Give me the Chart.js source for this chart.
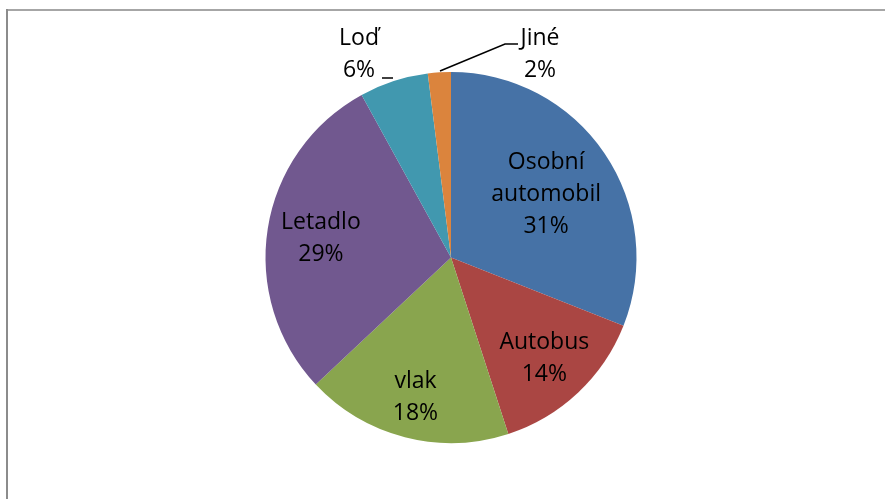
<!DOCTYPE html>
<html>
<head>
<meta charset="utf-8">
<script src="https://cdn.jsdelivr.net/npm/chart.js@4/dist/chart.umd.min.js"></script>
<style>
  html, body { margin: 0; padding: 0; background: #ffffff; }
  #c { display: block; }
</style>
</head>
<body>
<canvas id="c" width="885" height="499"></canvas>
<script>
// ---- data ----
const categories = ["Osobní automobil", "Autobus", "vlak", "Letadlo", "Loď", "Jiné"];
const labelLines = [["Osobní", "automobil"], ["Autobus"], ["vlak"], ["Letadlo"], ["Loď"], ["Jiné"]];
const values = [31, 14, 18, 29, 6, 2];

// ---- styles ----
const colors = ["#4672A6", "#AA4643", "#89A54E", "#71588F", "#4198AF", "#DB843D"];
// inside labels: radial factor; outside labels: offset from pie centre + leader polyline
const placement = [
  { r: 0.62 },
  { r: 0.735 },
  { r: 0.77 },
  { r: 0.71 },
  { dx: -92, dy: -204, leader: [[-69, -179.5], [-58, -179.5]] },
  { dx: 89, dy: -204, leader: [[-11, -186.5], [54, -213.5], [67, -213.5]] }
];
const FONT = '23px "Open Sans", "Liberation Sans", sans-serif';
const LINE_H = 32;
const CAP_H = 15.5;

const total = values.reduce((a, b) => a + b, 0);

const framePlugin = {
  id: 'frame',
  beforeDraw(chart) {
    const ctx = chart.ctx;
    ctx.save();
    ctx.fillStyle = '#ffffff';
    ctx.fillRect(0, 0, chart.width, chart.height);
    ctx.fillStyle = '#a6a6a6';
    ctx.fillRect(6, 9, chart.width - 6, 2);
    ctx.fillStyle = '#8c8c8c';
    ctx.fillRect(6, 9, 2, chart.height - 9);
    ctx.restore();
  }
};

const labelPlugin = {
  id: 'pieLabels',
  afterDatasetsDraw(chart) {
    const ctx = chart.ctx;
    const meta = chart.getDatasetMeta(0);
    ctx.save();
    ctx.font = FONT;
    ctx.fillStyle = '#000000';
    ctx.textAlign = 'center';
    ctx.textBaseline = 'alphabetic';
    meta.data.forEach((arc, i) => {
      const p = arc.getProps(['x', 'y', 'startAngle', 'endAngle', 'outerRadius'], true);
      const pct = Math.round(values[i] / total * 100) + '%';
      const lines = labelLines[i].concat([pct]);
      const pl = placement[i];
      let cx, cy;
      if (pl.r !== undefined) {
        const mid = (p.startAngle + p.endAngle) / 2;
        cx = p.x + Math.cos(mid) * p.outerRadius * pl.r;
        cy = p.y + Math.sin(mid) * p.outerRadius * pl.r;
      } else {
        cx = p.x + pl.dx;
        cy = p.y + pl.dy;
        ctx.beginPath();
        ctx.strokeStyle = '#000000';
        ctx.lineWidth = 1.5;
        pl.leader.forEach((pt, k) => {
          const X = p.x + pt[0], Y = p.y + pt[1];
          if (k === 0) ctx.moveTo(X, Y); else ctx.lineTo(X, Y);
        });
        ctx.stroke();
      }
      const n = lines.length;
      lines.forEach((t, k) => {
        const by = cy + CAP_H / 2 + (k - (n - 1) / 2) * LINE_H;
        ctx.fillText(t, cx, by);
      });
    });
    ctx.restore();
  }
};

new Chart(document.getElementById('c'), {
  type: 'pie',
  data: {
    labels: categories,
    datasets: [{
      data: values,
      backgroundColor: colors,
      borderWidth: 0
    }]
  },
  options: {
    responsive: false,
    animation: false,
    layout: { padding: { left: 200, right: 183, top: 72, bottom: 56 } },
    plugins: {
      legend: { display: false },
      tooltip: { enabled: false },
      title: { display: false }
    }
  },
  plugins: [framePlugin, labelPlugin]
});
</script>
</body>
</html>
